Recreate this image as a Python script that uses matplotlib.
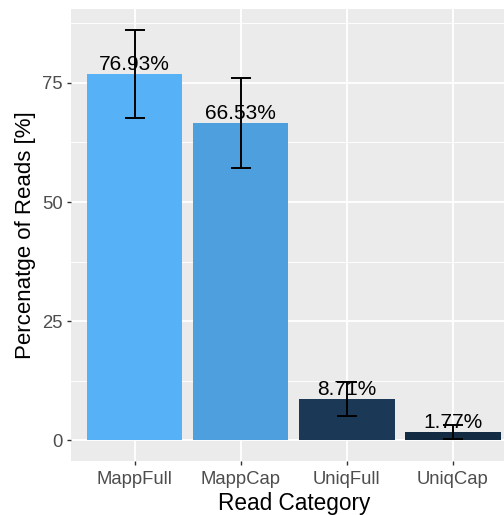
import matplotlib
matplotlib.use("Agg")
import matplotlib.pyplot as plt
import numpy as np

plt.rcParams['font.family'] = ['Liberation Sans', 'DejaVu Sans']

categories = ["MappFull", "MappCap", "UniqFull", "UniqCap"]
means = [76.93, 66.53, 8.71, 1.77]
sds = [9.25, 9.45, 3.57, 1.45]
labels = ["76.93%", "66.53%", "8.71%", "1.77%"]
fills = ["#56B1F7", "#4D9FDE", "#1B3856", "#132B43"]
y_ticks = [0, 25, 50, 75]

W, H, DPI = 504, 515, 100
fig = plt.figure(figsize=(W / DPI, H / DPI), dpi=DPI)
ax = fig.add_axes([71 / W, (H - 461) / H, (516.6 - 71) / W, (461 - 9) / H])
ax.set_facecolor("#EBEBEB")

x = np.arange(len(categories))
ax.set_xlim(-0.6, len(categories) - 0.4)
ax.set_ylim(-4.31, 90.5)

# grid: major and minor lines in white
for yv in y_ticks:
    ax.axhline(yv, color="white", lw=1.3, zorder=0)
for yv in [12.5, 37.5, 62.5, 87.5]:
    ax.axhline(yv, color="white", lw=0.65, zorder=0)
for xv in x:
    ax.axvline(xv, color="white", lw=1.3, zorder=0)

ax.bar(x, means, width=0.9, color=fills, zorder=2)
ax.errorbar(x, means, yerr=sds, fmt="none", ecolor="black", elinewidth=1.4,
            capsize=7.5, capthick=1.4, zorder=3)

for xi, m, lab in zip(x, means, labels):
    ax.annotate(lab, (xi, m), xytext=(0, 3), textcoords="offset points",
                ha="center", va="baseline", fontsize=15, color="black", zorder=4)

for s in ax.spines.values():
    s.set_visible(False)
ax.set_xticks(x)
ax.set_xticklabels(categories)
ax.set_yticks(y_ticks)
ax.tick_params(axis="both", length=3, width=1, color="#333333",
               labelcolor="#4D4D4D", labelsize=13.3)
ax.tick_params(axis="x", pad=4)
ax.tick_params(axis="y", pad=3)
ax.set_xlabel("Read Category", fontsize=16.3, labelpad=2.8)
ax.set_ylabel("Percenatge of Reads [%]", fontsize=16, labelpad=4)

fig.savefig("out.png", dpi=DPI)
